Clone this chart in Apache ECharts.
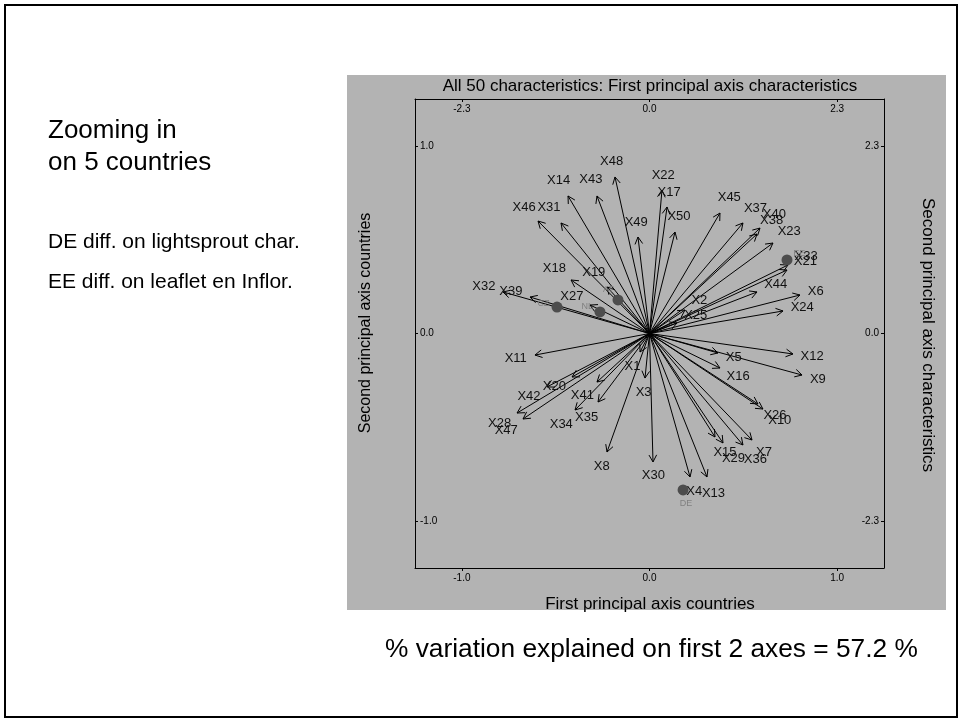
<!DOCTYPE html>
<html>
<head>
<meta charset="utf-8">
<script src="https://cdn.jsdelivr.net/npm/echarts@6/dist/echarts.min.js"></script>
<style>
  html, body { margin: 0; padding: 0; background: #ffffff; }
  #chart { width: 963px; height: 723px; }
</style>
</head>
<body>
<div id="chart"></div>
<script>
// Biplot of 50 characteristics (arrows) and 5 countries (points)
const charNames = ['X1','X2','X3','X4','X5','X6','X7','X8','X9','X10',
  'X11','X12','X13','X14','X15','X16','X17','X18','X19','X20',
  'X21','X22','X23','X24','X25','X26','X27','X28','X29','X30',
  'X31','X32','X33','X34','X35','X36','X37','X38','X39','X40',
  'X41','X42','X43','X44','X45','X46','X47','X48','X49','X50'];
// first principal axis, characteristics scale
const charAxis1 = [-0.116, 0.435, -0.055, 0.497, 0.840, 1.845, 1.257, -0.521, 1.870, 1.391,
  -1.404, 1.759, 0.705, -0.999, 0.803, 0.864, 0.215, -0.962, -0.521, -0.950,
  1.686, 0.153, 1.514, 1.637, 0.337, 1.330, -0.729, -1.624, 0.901, 0.043,
  -1.085, -1.796, 1.698, -0.913, -0.631, 1.146, 1.146, 1.318, -1.465, 1.355,
  -0.644, -1.257, -0.644, 1.318, 0.864, -1.367, -1.551, -0.423, -0.141, 0.313];
// second principal axis, characteristics scale
const charAxis2 = [-0.227, 0.288, -0.546, -1.759, -0.239, 0.472, -1.306, -1.453, -0.509, -0.926,
  -0.264, -0.251, -1.759, 1.686, -1.269, -0.423, 1.551, 0.656, 0.570, -0.533,
  0.778, 1.759, 1.109, 0.276, 0.129, -0.864, 0.349, -0.975, -1.342, -1.575,
  1.355, 0.509, 0.840, -0.938, -0.840, -1.367, 1.355, 1.220, 0.447, 1.293,
  -0.595, -0.655, 1.686, 0.509, 1.477, 1.379, -1.048, 1.919, 1.183, 1.244];

const countryNames = ['CZ', 'NL', 'AT', 'EE', 'DE'];
const countryAxis1 = [-0.493, -0.264, -0.168, 0.733, 0.179];
const countryAxis2 = [0.141, 0.115, 0.179, 0.392, -0.834];

const countryTicks = [-1, 0, 1];
const charTicks = [-2.3, 0, 2.3];
const countryRange = 1.25;
const charRange = countryRange * 2.3;

const FONT = '"Liberation Sans", Arial, Helvetica, sans-serif';

const chart = echarts.init(document.getElementById('chart'), null, { renderer: 'canvas' });

function axisBase(extra) {
  return Object.assign({
    type: 'value',
    axisLine: { show: true, onZero: false, lineStyle: { color: '#000', width: 1 } },
    splitLine: { show: false },
    axisTick: { show: true, length: 3, lineStyle: { color: '#000' } },
    axisLabel: {
      color: '#000', fontSize: 10, fontFamily: FONT,
      formatter: v => Number(v).toFixed(1)
    }
  }, extra);
}

const option = {
  animation: false,
  backgroundColor: '#ffffff',
  grid: { left: 415, top: 99, width: 469, height: 469, outerBoundsMode: 'none' },
  xAxis: [
    axisBase({ position: 'bottom', min: -countryRange, max: countryRange,
      axisTick: { show: true, inside: false, length: 3, customValues: countryTicks, lineStyle: { color: '#000' } },
      axisLabel: { color: '#000', fontSize: 10, fontFamily: FONT, margin: 5, customValues: countryTicks,
        formatter: v => Number(v).toFixed(1) } }),
    axisBase({ position: 'top', min: -charRange, max: charRange,
      axisTick: { show: true, inside: true, length: 3, customValues: charTicks, lineStyle: { color: '#000' } },
      axisLabel: { inside: true, color: '#000', fontSize: 10, fontFamily: FONT, margin: 5, customValues: charTicks,
        formatter: v => Number(v).toFixed(1) } })
  ],
  yAxis: [
    axisBase({ position: 'left', min: -countryRange, max: countryRange,
      axisTick: { show: true, inside: true, length: 3, customValues: countryTicks, lineStyle: { color: '#000' } },
      axisLabel: { inside: true, color: '#000', fontSize: 10, fontFamily: FONT, margin: 5, customValues: countryTicks,
        formatter: v => Number(v).toFixed(1) } }),
    axisBase({ position: 'right', min: -charRange, max: charRange,
      axisTick: { show: true, inside: true, length: 3, customValues: charTicks, lineStyle: { color: '#000' } },
      axisLabel: { inside: true, color: '#000', fontSize: 10, fontFamily: FONT, margin: 5, customValues: charTicks,
        formatter: v => Number(v).toFixed(1) } })
  ],
  graphic: {
    elements: [
      { type: 'rect', z: -100, silent: true,
        shape: { x: 347, y: 75, width: 599, height: 535 },
        style: { fill: '#b3b3b3' } },
      { type: 'rect', z: 100, silent: true,
        shape: { x: 5, y: 5, width: 952, height: 712 },
        style: { fill: 'none', stroke: '#000', lineWidth: 2 } },
      { type: 'text', x: 650, y: 86, style: { text: 'All 50 characteristics: First principal axis characteristics',
        font: '17px ' + FONT, fill: '#000', align: 'center', verticalAlign: 'middle' } },
      { type: 'text', x: 650, y: 604, style: { text: 'First principal axis countries',
        font: '17px ' + FONT, fill: '#000', align: 'center', verticalAlign: 'middle' } },
      { type: 'text', x: 366, y: 323, rotation: Math.PI / 2, style: { text: 'Second principal axis countries',
        font: '16px ' + FONT, fill: '#000', align: 'center', verticalAlign: 'middle' } },
      { type: 'text', x: 928, y: 335, rotation: -Math.PI / 2, style: { text: 'Second principal axis characteristics',
        font: '17px ' + FONT, fill: '#000', align: 'center', verticalAlign: 'middle' } },
      { type: 'text', x: 48, y: 131, style: { text: 'Zooming in',
        font: '26px ' + FONT, fill: '#000', align: 'left', verticalAlign: 'middle' } },
      { type: 'text', x: 48, y: 163, style: { text: 'on 5 countries',
        font: '26px ' + FONT, fill: '#000', align: 'left', verticalAlign: 'middle' } },
      { type: 'text', x: 48, y: 242, style: { text: 'DE diff. on lightsprout char.',
        font: '21px ' + FONT, fill: '#000', align: 'left', verticalAlign: 'middle' } },
      { type: 'text', x: 48, y: 282, style: { text: 'EE diff. on leaflet en Inflor.',
        font: '21px ' + FONT, fill: '#000', align: 'left', verticalAlign: 'middle' } },
      { type: 'text', x: 385, y: 650, style: { text: '% variation explained on first 2 axes = 57.2 %',
        font: '26.3px ' + FONT, fill: '#000', align: 'left', verticalAlign: 'middle' } }
    ]
  },
  series: [
    {
      // characteristics drawn as arrows from the origin
      type: 'custom',
      name: 'characteristics',
      xAxisIndex: 1,
      yAxisIndex: 1,
      clip: false,
      z: 3,
      data: charAxis1.map((v, i) => [v, charAxis2[i]]),
      renderItem: function (params, api) {
        const tip = api.coord([api.value(0), api.value(1)]);
        const o = api.coord([0, 0]);
        const dx = tip[0] - o[0], dy = tip[1] - o[1];
        const len = Math.hypot(dx, dy) || 1;
        const ux = dx / len, uy = dy / len;
        const h = 8, a = 0.5, c = Math.cos(a), s = Math.sin(a);
        const w1 = [tip[0] - h * (ux * c - uy * s), tip[1] - h * (uy * c + ux * s)];
        const w2 = [tip[0] - h * (ux * c + uy * s), tip[1] - h * (uy * c - ux * s)];
        const name = charNames[params.dataIndex];
        const hw = (8.7 + 7.2 * (name.length - 1)) / 2, hh = 6.5;
        const d = 7 + Math.abs(ux) * hw + Math.abs(uy) * hh;
        return {
          type: 'group',
          children: [
            { type: 'line', shape: { x1: o[0], y1: o[1], x2: tip[0], y2: tip[1] },
              style: { stroke: '#000', lineWidth: 1 } },
            { type: 'polyline', shape: { points: [w1, tip, w2] },
              style: { stroke: '#000', lineWidth: 1, fill: null } },
            { type: 'text', z2: 10,
              style: { text: name, x: tip[0] + ux * d, y: tip[1] + uy * d,
                font: '13px ' + FONT, fill: '#111', align: 'center', verticalAlign: 'middle' } }
          ]
        };
      }
    },
    {
      // countries drawn as points
      type: 'custom',
      name: 'countries',
      xAxisIndex: 0,
      yAxisIndex: 0,
      clip: false,
      z: 4,
      data: countryAxis1.map((v, i) => [v, countryAxis2[i]]),
      renderItem: function (params, api) {
        const p = api.coord([api.value(0), api.value(1)]);
        const o = api.coord([0, 0]);
        const dx = p[0] - o[0], dy = p[1] - o[1];
        const len = Math.hypot(dx, dy) || 1;
        const ux = dx / len, uy = dy / len;
        const d = 14;
        return {
          type: 'group',
          children: [
            { type: 'circle', shape: { cx: p[0], cy: p[1], r: 5.5 },
              style: { fill: '#4d4d4d' } },
            { type: 'text',
              style: { text: countryNames[params.dataIndex], x: p[0] + ux * d, y: p[1] + uy * d,
                font: '9px ' + FONT, fill: '#808080', align: 'center', verticalAlign: 'middle' } }
          ]
        };
      }
    }
  ]
};

chart.setOption(option);
</script>
</body>
</html>
